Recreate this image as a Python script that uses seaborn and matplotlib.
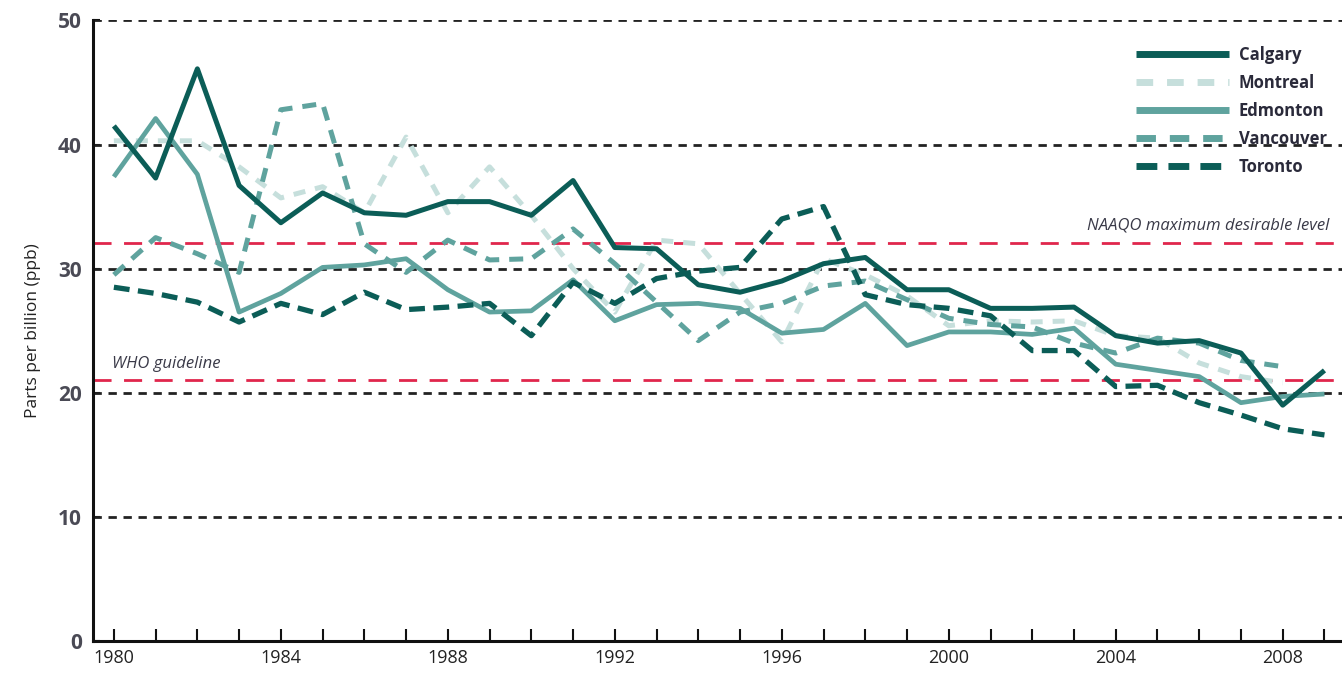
import numpy as np
import pandas as pd
import matplotlib
matplotlib.use("Agg")
import matplotlib.pyplot as plt
import seaborn as sns

years = list(range(1980, 2010))
calgary = [41.5, 37.3, 46.1, 36.7, 33.7, 36.1, 34.5, 34.3, 35.4, 35.4,
           34.3, 37.1, 31.7, 31.6, 28.7, 28.1, 29.0, 30.4, 30.9, 28.3,
           28.3, 26.8, 26.8, 26.9, 24.6, 24.0, 24.2, 23.2, 19.0, 21.8]
montreal = [40.3, 40.3, 40.3, 38.2, 35.7, 36.6, 34.5, 40.6, 34.5, 38.2,
            34.3, 30.0, 26.5, 32.3, 32.0, 28.0, 24.1, 30.8, 29.5, 27.8,
            25.4, 25.8, 25.7, 25.8, 24.6, 24.4, 22.4, 21.3, 20.8, np.nan]
edmonton = [37.4, 42.1, 37.6, 26.5, 28.0, 30.1, 30.3, 30.8, 28.3, 26.5,
            26.6, 29.1, 25.8, 27.1, 27.2, 26.8, 24.8, 25.1, 27.2, 23.8,
            24.9, 24.9, 24.7, 25.2, 22.3, 21.8, 21.3, 19.2, 19.7, 19.9]
vancouver = [29.5, 32.5, 31.2, 29.7, 42.8, 43.3, 32.0, 29.7, 32.3, 30.7,
             30.8, 33.2, 30.4, 27.3, 24.2, 26.5, 27.2, 28.6, 29.0, 27.5,
             26.0, 25.5, 25.3, 24.0, 23.2, 24.4, 24.0, 22.6, 22.1, np.nan]
toronto = [28.5, 28.0, 27.3, 25.7, 27.2, 26.3, 28.1, 26.7, 26.9, 27.2,
           24.6, 28.9, 27.2, 29.2, 29.8, 30.1, 34.0, 35.0, 27.9, 27.1,
           26.8, 26.2, 23.4, 23.4, 20.5, 20.6, 19.2, 18.2, 17.1, 16.6]

cities = ["Calgary", "Montreal", "Edmonton", "Vancouver", "Toronto"]
series = [calgary, montreal, edmonton, vancouver, toronto]

naaqo_level = 32.1
who_level = 21.0
naaqo_label = "NAAQO maximum desirable level"
who_label = "WHO guideline"
y_ticks = [0, 10, 20, 30, 40, 50]
x_label_years = [1980, 1984, 1988, 1992, 1996, 2000, 2004, 2008]

dark = "#0b5d57"
medium = "#5fa39e"
light = "#c6dfdc"
styles = {
    "Calgary": dict(color=dark, linestyle="-", linewidth=3.6),
    "Montreal": dict(color=light, linestyle=(0, (2.4, 2.0)), linewidth=3.6),
    "Edmonton": dict(color=medium, linestyle="-", linewidth=3.4),
    "Vancouver": dict(color=medium, linestyle=(0, (2.8, 2.0)), linewidth=3.6),
    "Toronto": dict(color=dark, linestyle=(0, (3.0, 1.6)), linewidth=3.8),
}

sns.set_theme(style="white")
plt.rcParams["font.family"] = ["Open Sans", "DejaVu Sans"]

fig = plt.figure(figsize=(13.42, 6.76), dpi=100)
ax = fig.add_axes([0.0693, 0.0518, 0.9307, 0.918])

# grid lines
for v in y_ticks[1:]:
    ax.axhline(v, color="#222222", linewidth=2.0, linestyle=(0, (3.0, 2.4)), zorder=1)

# reference lines
ax.axhline(naaqo_level, color="#e0264c", linewidth=2.0, linestyle=(0, (6.5, 4.5)), zorder=2)
ax.axhline(who_level, color="#e0264c", linewidth=2.0, linestyle=(0, (6.5, 4.5)), zorder=2)

order = ["Montreal", "Vancouver", "Edmonton", "Toronto", "Calgary"]
data = dict(zip(cities, series))
lines = {}
for name in order:
    df = pd.DataFrame({"year": years, "ppb": data[name]})
    sns.lineplot(data=df, x="year", y="ppb", ax=ax, label=name, zorder=3,
                 solid_capstyle="butt", dash_capstyle="butt", **styles[name])
    lines[name] = ax.get_lines()[-1]

ax.set_xlim(1979.5, 2009.42)
ax.set_ylim(0, 50)
ax.set_yticks(y_ticks)
ax.set_xticks(years, minor=False)
ax.set_xticklabels([str(y) if y in x_label_years else "" for y in years])

ax.tick_params(axis="x", direction="in", length=9, width=1.5, color="#111111",
               labelsize=13, labelcolor="#222222", pad=6, bottom=True)
ax.tick_params(axis="y", direction="in", length=5, width=1.5, color="#111111",
               labelsize=15, labelcolor="#4a4a55", pad=8, left=True)
for lab in ax.get_yticklabels():
    lab.set_fontweight("bold")

for s in ["top", "right"]:
    ax.spines[s].set_visible(False)
for s in ["left", "bottom"]:
    ax.spines[s].set_color("#111111")
    ax.spines[s].set_linewidth(2.2)

ax.set_xlabel("")
ax.set_ylabel("Parts per billion (ppb)", fontsize=12.5, color="#222222", labelpad=12)

ax.text(0.99, naaqo_level + 0.7, naaqo_label, transform=ax.get_yaxis_transform(),
        ha="right", va="bottom", fontsize=12, style="italic", color="#3a3a48")
ax.text(0.015, who_level + 0.7, who_label, transform=ax.get_yaxis_transform(),
        ha="left", va="bottom", fontsize=12, style="italic", color="#3a3a48")

handles = [lines[c] for c in cities]
leg = ax.legend(handles, cities, loc="upper left", bbox_to_anchor=(0.828, 0.973),
                frameon=False, handlelength=5.6, labelspacing=0.6, borderpad=0,
                handletextpad=0.6, prop=dict(size=12, weight="bold"))
for t in leg.get_texts():
    t.set_color("#2a2a3a")
for h in leg.legend_handles:
    h.set_linewidth(5.0)

fig.savefig("out.png", dpi=100)
